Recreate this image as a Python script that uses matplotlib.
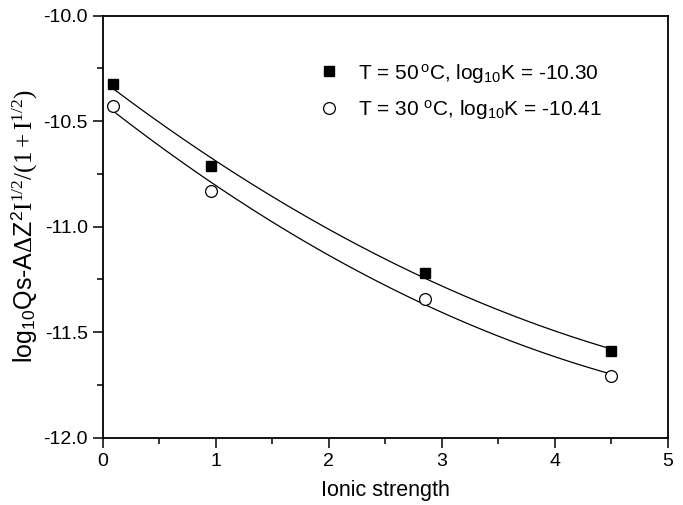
import numpy as np
import matplotlib
matplotlib.use('Agg')
import matplotlib.pyplot as plt

plt.rcParams['font.family'] = ['Liberation Sans', 'DejaVu Sans']
plt.rcParams['mathtext.fontset'] = 'custom'
plt.rcParams['mathtext.rm'] = 'Liberation Serif'
plt.rcParams['mathtext.it'] = 'Liberation Serif:italic'
plt.rcParams['mathtext.sf'] = 'Liberation Sans'

# data
ionic = [0.09, 0.96, 2.85, 4.50]
y_50 = [-10.325, -10.715, -11.218, -11.589]
y_30 = [-10.431, -10.831, -11.343, -11.708]
label_50 = r'T = 50$\,^{\mathsf{o}}$C, log$_{\mathsf{10}}$K = -10.30'
label_30 = r'T = 30 $^{\mathsf{o}}$C, log$_{\mathsf{10}}$K = -10.41'

fig = plt.figure(figsize=(6.83, 5.05), dpi=100)
ax = fig.add_axes([0.1508, 0.1333, 0.827, 0.836])

# quadratic fits through each series
xs = np.linspace(ionic[0], ionic[-1], 200)
for yv in (y_50, y_30):
    p = np.polyfit(ionic, yv, 2)
    ax.plot(xs, np.polyval(p, xs), color='black', lw=0.9)

ax.plot(ionic, y_50, 's', color='black', ms=7.5, ls='none', label=label_50)
ax.plot(ionic, y_30, 'o', mfc='white', mec='black', mew=0.9, ms=8.5,
        ls='none', label=label_30)

ax.set_xlim(0, 5)
ax.set_ylim(-12.0, -10.0)
ax.set_xticks(np.arange(0, 5.1, 1))
ax.set_xticks(np.arange(0.5, 5, 1), minor=True)
ax.set_yticks(np.arange(-12.0, -9.9, 0.5))
ax.set_yticks(np.arange(-11.75, -10.0, 0.5), minor=True)
ax.set_yticklabels(['%.1f' % v for v in np.arange(-12.0, -9.9, 0.5)])
ax.tick_params(which='major', direction='out', length=7, width=1.1,
               labelsize=14, pad=4)
ax.tick_params(which='minor', direction='out', length=4, width=1.1)
for s in ax.spines.values():
    s.set_linewidth(1.3)

ax.set_xlabel('Ionic strength', fontsize=15.5, labelpad=7)
ax.set_ylabel(r'log$_{\mathsf{10}}$Qs-A$\Delta$Z$^{\mathsf{2}}$'
              r'$\mathrm{I}^{1/2}/(1+\mathrm{I}^{1/2})$', fontsize=18, labelpad=3)

ax.legend(loc='upper left', bbox_to_anchor=(0.345, 0.935), frameon=False,
          fontsize=15, handletextpad=0.8, labelspacing=0.65, handlelength=1.2)

fig.savefig('out.png', dpi=100)
